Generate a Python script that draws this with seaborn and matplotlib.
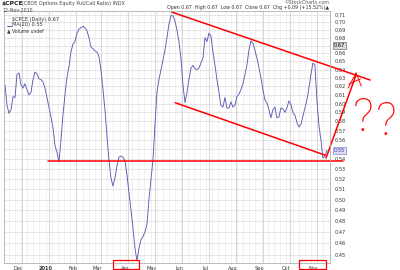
import numpy as np
import pandas as pd
import matplotlib
matplotlib.use("Agg")
import matplotlib.pyplot as plt
import matplotlib.dates as mdates
import seaborn as sns
from matplotlib.ticker import FixedLocator, NullFormatter, NullLocator
from matplotlib.patches import Rectangle

# ---------------- data ----------------
ma20_values = [
    0.622, 0.598, 0.589, 0.593, 0.608, 0.607, 0.634, 0.636, 0.622, 0.618,
    0.623, 0.616, 0.610, 0.613, 0.628, 0.637, 0.635, 0.629, 0.628, 0.625,
    0.618, 0.607, 0.596, 0.585, 0.573, 0.554, 0.547, 0.537, 0.560, 0.587,
    0.610, 0.631, 0.644, 0.662, 0.672, 0.675, 0.686, 0.691, 0.693, 0.695,
    0.693, 0.689, 0.680, 0.668, 0.666, 0.663, 0.662, 0.656, 0.640, 0.616,
    0.593, 0.564, 0.539, 0.521, 0.513, 0.521, 0.533, 0.542, 0.543, 0.542,
    0.538, 0.524, 0.507, 0.491, 0.474, 0.456, 0.445, 0.456, 0.463, 0.466,
    0.470, 0.477, 0.500, 0.519, 0.539, 0.576, 0.613, 0.628, 0.640, 0.652,
    0.664, 0.680, 0.698, 0.709, 0.709, 0.702, 0.690, 0.675, 0.654, 0.622,
    0.601, 0.613, 0.628, 0.642, 0.645, 0.641, 0.640, 0.642, 0.648, 0.654,
    0.680, 0.675, 0.686, 0.682, 0.662, 0.646, 0.628, 0.613, 0.598, 0.596,
    0.607, 0.595, 0.595, 0.602, 0.596, 0.598, 0.608, 0.611, 0.616, 0.623,
    0.634, 0.646, 0.664, 0.676, 0.673, 0.664, 0.654, 0.643, 0.630, 0.616,
    0.604, 0.601, 0.593, 0.584, 0.593, 0.596, 0.584, 0.585, 0.595, 0.594,
    0.590, 0.595, 0.603, 0.599, 0.590, 0.587, 0.579, 0.574, 0.577, 0.586,
    0.595, 0.604, 0.618, 0.634, 0.648, 0.646, 0.604, 0.576, 0.560, 0.541,
    0.543, 0.549,
]
ma20_dates = pd.date_range("2009-11-12", "2010-11-12", periods=len(ma20_values))

month_starts = ["2009-12-01", "2010-01-01", "2010-02-01", "2010-03-01", "2010-04-01",
                "2010-05-01", "2010-06-01", "2010-07-01", "2010-08-01", "2010-09-01",
                "2010-10-01", "2010-11-01"]
month_labels = ["Dec", "2010", "Feb", "Mar", "Apr", "May", "Jun", "Jul", "Aug",
                "Sep", "Oct", "Nov"]
y_ticks = [0.45, 0.46, 0.47, 0.48, 0.49, 0.50, 0.51, 0.52, 0.53, 0.54, 0.55, 0.56,
           0.57, 0.58, 0.59, 0.60, 0.61, 0.62, 0.63, 0.64, 0.65, 0.66, 0.67, 0.68,
           0.69, 0.70, 0.71]
close_value = 0.67
ma_last_label = "0.55"
y_tick_labels = ["" if ("%.2f" % v) in ("%.2f" % close_value, ma_last_label) else "%.2f" % v
                 for v in y_ticks]

# hand-drawn annotation lines (date, value)
upper_channel_dates = ["2010-05-20", "2010-12-31"]
upper_channel_vals = [0.714, 0.6275]
lower_channel_dates = ["2010-05-24", "2010-11-10"]
lower_channel_vals = [0.601, 0.544]
support_dates = ["2009-12-31", "2010-11-30"]
support_vals = [0.538, 0.538]
arrow_dates = ["2010-11-11", "2010-12-15"]
arrow_vals = [0.541, 0.6335]
arrowhead_strokes = [
    (["2010-12-15", "2010-12-06"], [0.636, 0.618]),
    (["2010-12-15", "2010-12-21"], [0.636, 0.6204]),
    (["2010-12-07", "2010-12-20"], [0.6228, 0.6287]),
]
qmarks = [("2010-12-23", 0.584), ("2011-01-18", 0.579)]

# ---------------- figure ----------------
sns.set_style("white")
plt.rcParams["font.family"] = ["DejaVu Sans"]

fig = plt.figure(figsize=(4.0, 2.7), dpi=100)
fig.patch.set_facecolor("white")
ax = fig.add_axes([0.01, 0.0259, 0.815, 0.9333])

sns.lineplot(x=ma20_dates, y=ma20_values, ax=ax, color="#5a5ab4", linewidth=0.65)

ax.set_yscale("log")
ax.set_ylim(0.4432, 0.7154)
ax.set_xlim(pd.Timestamp("2009-11-10 21:00"), pd.Timestamp("2010-11-15 12:00"))

# grids
ax.yaxis.set_major_locator(FixedLocator(y_ticks))
ax.yaxis.set_minor_locator(NullLocator())
ax.yaxis.tick_right()
ax.set_yticklabels(y_tick_labels)
ax.tick_params(axis="y", which="both", length=0, labelsize=3.6, pad=3, labelcolor="#333333")
ax.yaxis.set_minor_formatter(NullFormatter())

ax.xaxis.set_major_locator(FixedLocator(mdates.date2num(pd.to_datetime(month_starts))))
ax.xaxis.set_minor_locator(mdates.WeekdayLocator(byweekday=mdates.MO))
ax.xaxis.set_major_formatter(NullFormatter())
ax.tick_params(axis="x", which="both", length=0)

ax.grid(True, axis="y", which="major", color="#dcdcdc", linewidth=0.5)
ax.grid(True, axis="x", which="major", color="#d0d0d0", linewidth=0.6)
ax.grid(True, axis="x", which="minor", color="#ececec", linewidth=0.5)
ax.set_axisbelow(True)
ax.set_xlabel("")
ax.set_ylabel("")
for s in ax.spines.values():
    s.set_color("#b0b0b0")
    s.set_linewidth(0.6)

# month labels (slightly left of month start as on the source)
xtrans = ax.get_xaxis_transform()
for d, lab in zip(month_starts, month_labels):
    ax.text(pd.Timestamp(d) - pd.Timedelta(days=4), -0.012, lab, transform=xtrans,
            ha="center", va="top", fontsize=3.6, color="#333333",
            fontweight="bold" if lab == "2010" else "normal", clip_on=False)

# value markers on right axis
ax.text(1.012, close_value, "%.2f" % close_value, transform=ax.get_yaxis_transform(),
        fontsize=3.6, va="center", ha="left", color="#000000",
        bbox=dict(boxstyle="square,pad=0.15", fc="#d9d9d9", ec="#555555", lw=0.4))
ax.text(1.012, ma20_values[-1], ma_last_label, transform=ax.get_yaxis_transform(),
        fontsize=3.6, va="center", ha="left", color="#3333aa",
        bbox=dict(boxstyle="square,pad=0.15", fc="#dcdcf4", ec="#6a6ac8", lw=0.4))

# legend-like texts
ax.text(0.024, 0.975, r"\$CPCE (Daily) 0.67", transform=ax.transAxes,
        fontsize=3.6, va="top", ha="left", color="#333333")
ax.plot([0.008, 0.024], [0.942, 0.942], transform=ax.transAxes, color="#5a5ab4", lw=0.7)
ax.text(0.026, 0.955, "MA(20) 0.55", transform=ax.transAxes,
        fontsize=3.6, va="top", ha="left", color="#333333")
ax.text(0.008, 0.932, "\u25b2 Volume undef", transform=ax.transAxes,
        fontsize=3.3, va="top", ha="left", color="#333333")

# header
fig.text(2 / 400, 1 - 1 / 270, r"\$CPCE", fontsize=4.4, fontweight="bold", va="top", ha="left",
         color="#222222")
fig.text(22 / 400, 1 - 1.5 / 270, "(CBOE Options Equity Put/Call Ratio) INDX", fontsize=3.5,
         va="top", ha="left", color="#444444")
fig.text(2 / 400, 1 - 7.5 / 270, "12-Nov-2010", fontsize=3.4, va="top", ha="left",
         color="#444444")
fig.text(329 / 400, 1 - 0.5 / 270, "\u00a9StockCharts.com", fontsize=3.4, va="top", ha="right",
         color="#555555")
fig.text(329 / 400, 1 - 5.5 / 270,
         "Open 0.67  High 0.67  Low 0.67  Close 0.67  Chg +0.09 (+15.52%)\u25b2",
         fontsize=3.4, va="top", ha="right", color="#333333")

# hand-drawn red annotations
red = "#ff0000"
def to_dt(lst):
    return pd.to_datetime(lst)

for dts, vals in [(upper_channel_dates, upper_channel_vals),
                  (lower_channel_dates, lower_channel_vals),
                  (support_dates, support_vals),
                  (arrow_dates, arrow_vals)]:
    ax.plot(to_dt(dts), vals, color=red, lw=1.1, clip_on=False, solid_capstyle="round")
for dts, vals in arrowhead_strokes:
    ax.plot(to_dt(dts), vals, color=red, lw=0.7, clip_on=False)
for d, v in qmarks:
    ax.text(pd.Timestamp(d), v, "?", fontsize=34, color=red, ha="center", va="center",
            fontfamily="Roboto", fontweight="light", clip_on=False)

# red boxes around Apr and Nov
for x0, w in [(113, 26), (299, 27)]:
    fig.add_artist(Rectangle((x0 / 400, 1 / 270), w / 400, 9 / 270, transform=fig.transFigure,
                             fill=False, ec=red, lw=0.9))

fig.savefig("out.png", dpi=100, facecolor="white")
